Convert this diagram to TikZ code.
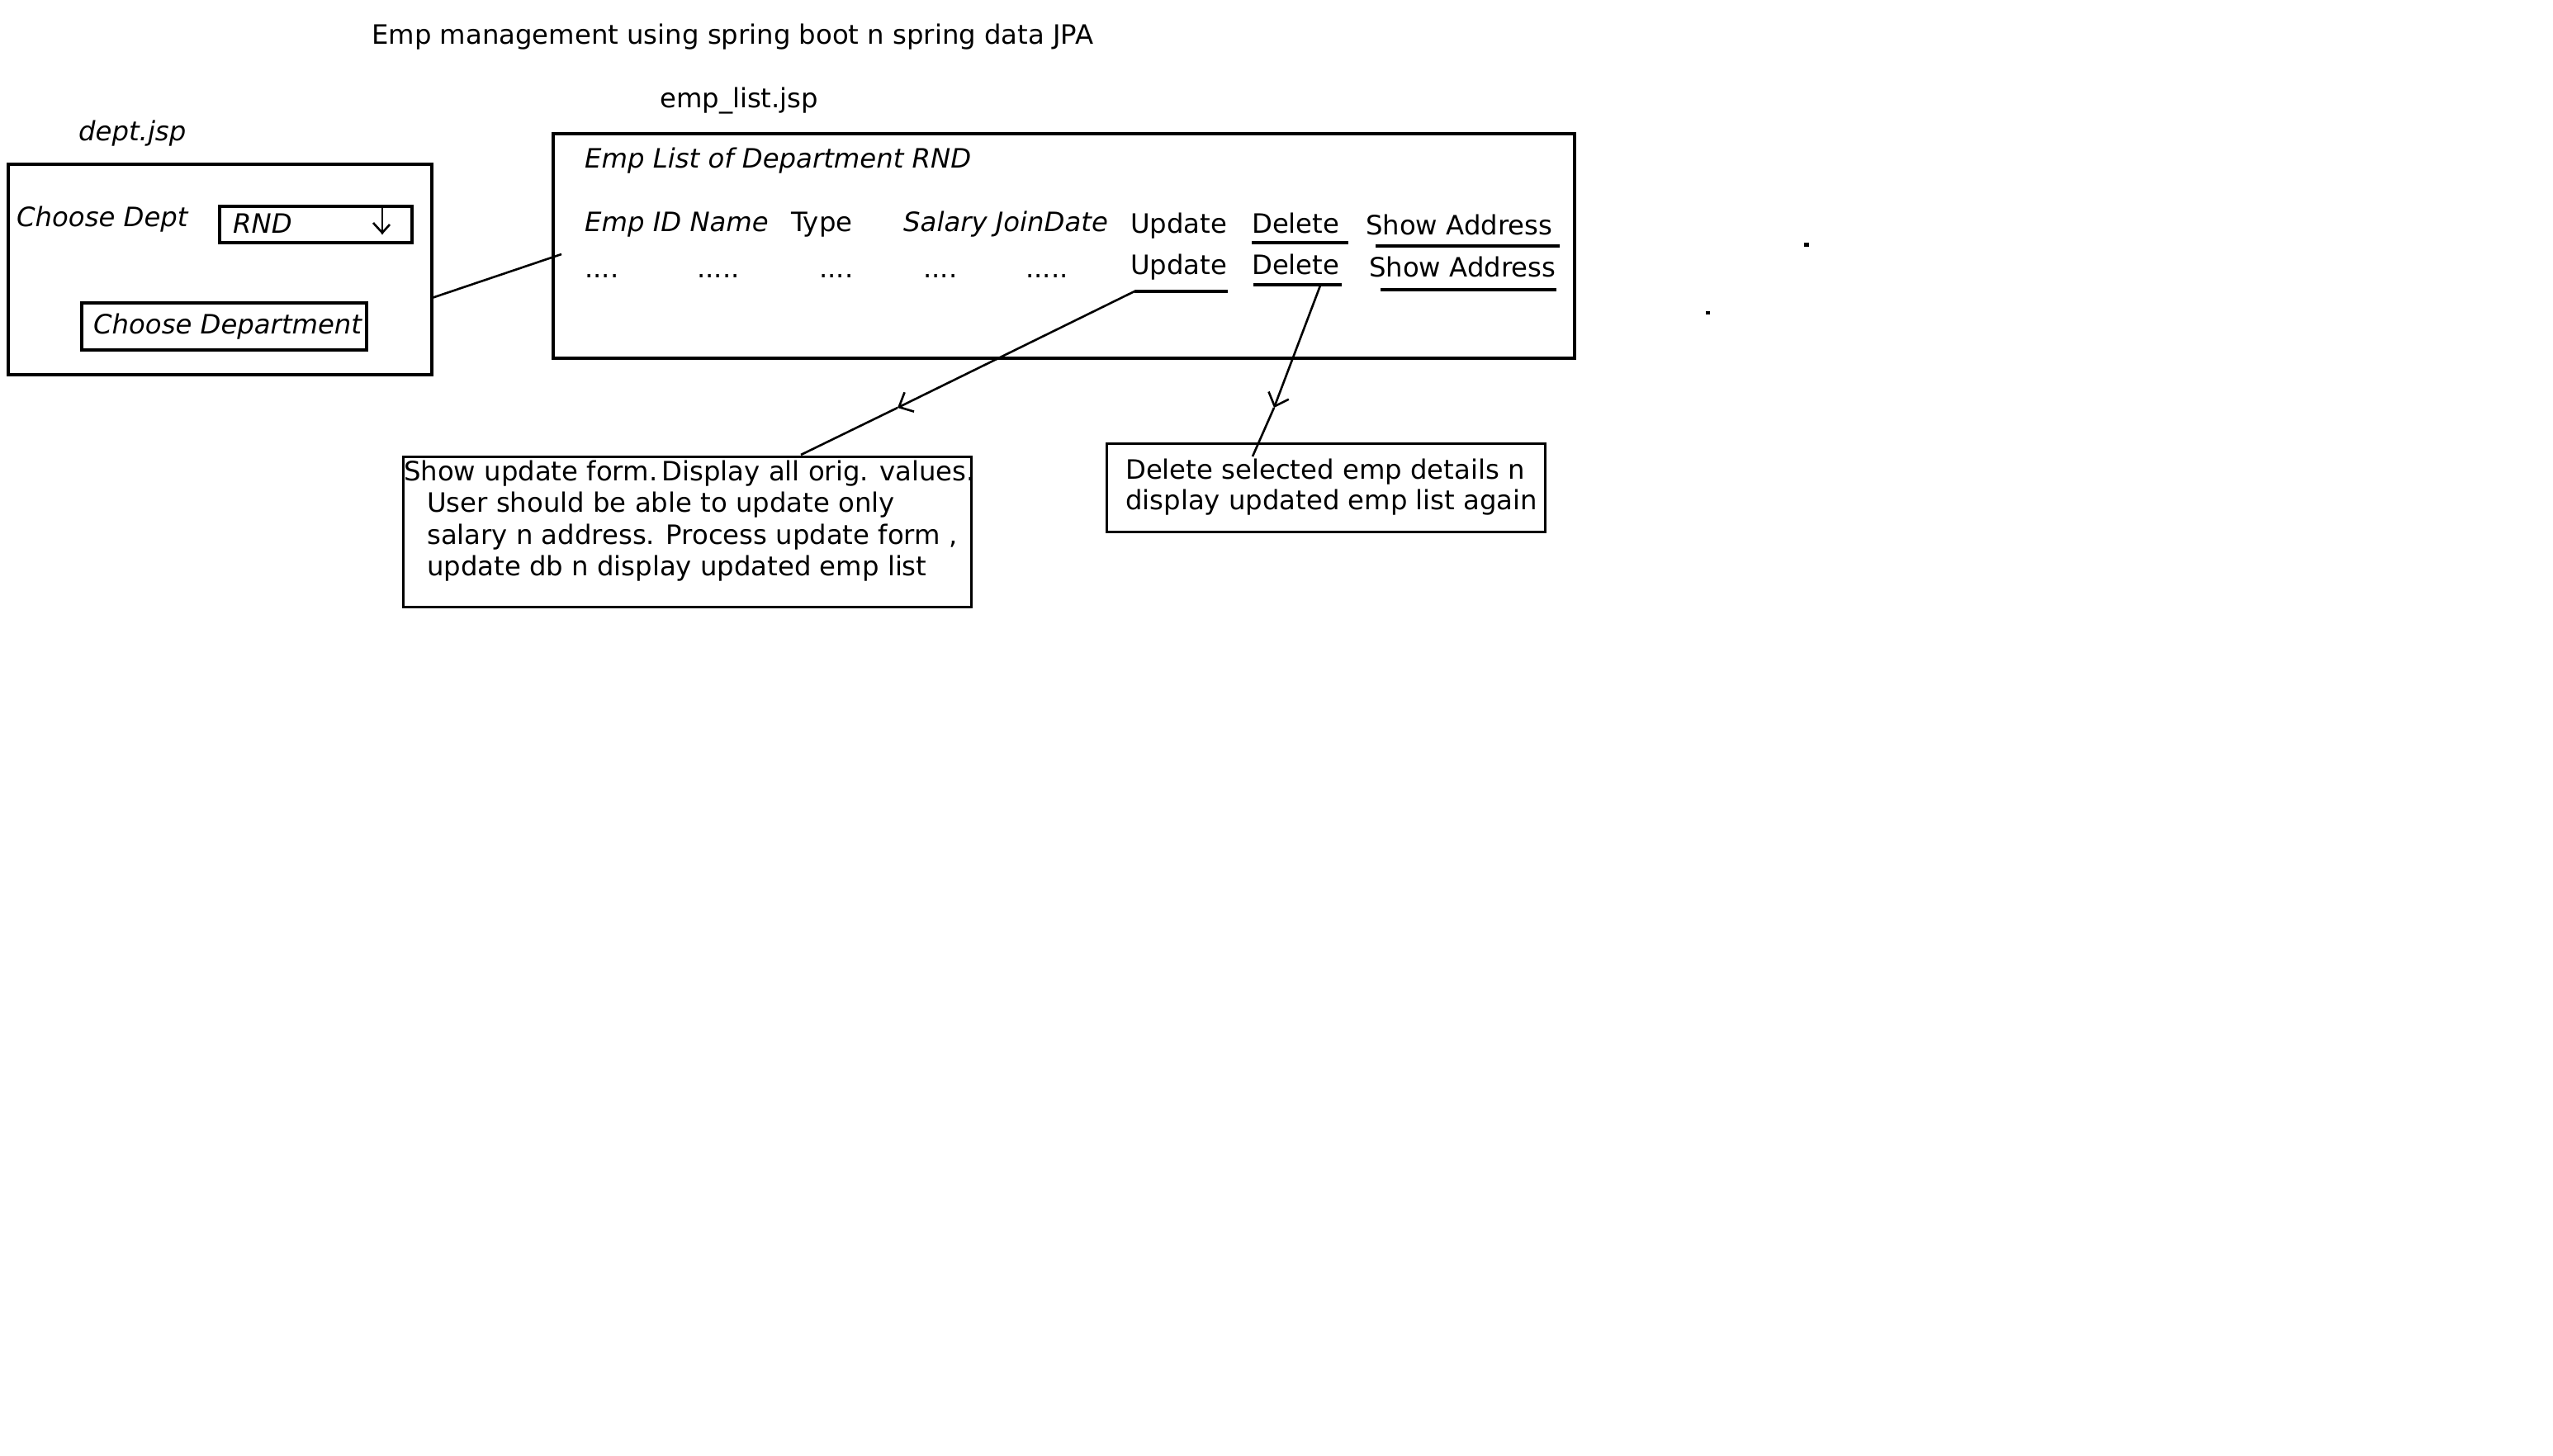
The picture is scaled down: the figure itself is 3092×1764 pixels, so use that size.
\documentclass[tikz,border=0pt]{standalone}
\usepackage{fontspec}
\setmainfont{DejaVu Sans}
\usetikzlibrary{arrows.meta}
\tikzset{
  txt/.style={inner sep=0pt, anchor=base west, font=\fontsize{32.3}{38}\selectfont},
  itxt/.style={txt, font=\fontsize{32.3}{38}\selectfont\itshape},
  box/.style={draw, line width=3.2pt, inner sep=0pt},
  conn/.style={line width=2.6pt},
  uline/.style={line width=3.2pt},
  tip/.style={conn, -{Straight Barb[length=14pt,width=26pt,line width=2.6pt]}}
}
\begin{document}
\begin{tikzpicture}[x=1pt,y=-1pt]
\useasboundingbox (0,0) rectangle (3092,1764);
% title
\node[txt] (title) at (450,53) {Emp management using spring boot n spring data JPA};
\node[txt] (emplbl) at (799,130) {emp\_list.jsp};
\node[itxt] (deptlbl) at (95,170) {dept.jsp};
% dept box
\draw[box] (10,199) rectangle (523,454);
\coordinate (deptR) at (523,361);
\node[itxt] (cd) at (20,274) {Choose Dept};
\draw[box] (266,250) rectangle (499,294);
\node[itxt] (rnd) at (282,282) {RND};
\draw[conn] (463,248) -- (463,284);
\draw[conn] (452,270) -- (463,282) -- (472,272);
\draw[box] (99,367) rectangle (444,424);
\node[itxt] (cdbtn) at (113,404) {Choose Department};
% emp box
\draw[box] (670,162) rectangle (1907,434);
\coordinate (empL) at (680,308);
\draw[conn] (deptR) -- (empL);
\node[itxt] (elh) at (708,203) {Emp List of Department RND};
\node[itxt] (h1) at (708,280) {Emp ID Name};
\node[txt] (h2) at (958,280) {Type};
\node[itxt] (h3) at (1094,280) {Salary JoinDate};
\node[txt] (u1) at (1369,282) {Update};
\node[txt] (d1) at (1516,282) {Delete};
\node[txt] (s1) at (1654,284) {Show Address};
\draw[uline] (1516,294) -- (1633,294);
\draw[uline] (1666,298) -- (1889,298);
\node[txt] (r1) at (708,336) {....};
\node[txt] (r2) at (844,336) {.....};
\node[txt] (r3) at (992,336) {....};
\node[txt] (r4) at (1118,336) {....};
\node[txt] (r5) at (1242,336) {.....};
\node[txt] (u2) at (1369,332) {Update};
\node[txt] (d2) at (1516,332) {Delete};
\node[txt] (s2) at (1658,335) {Show Address};
\coordinate (uA) at (1374,353);
\draw[uline] (uA) -- (1487,353);
\draw[uline] (1518,345) -- (1625,345);
\coordinate (dA) at (1599,346);
\draw[uline] (1672,351) -- (1885,351);
% update box
\node[box, minimum width=688pt, minimum height=182pt, anchor=north west] (ubox) at (487,552) {};
\coordinate (uB) at (970,551);
\coordinate (uM) at (1087,494);
\draw[tip] (uA) -- (uM);
\draw[conn] (uM) -- (uB);
\node[txt] (ut1) at (489,582) {Show update form.\,Display all orig. values.};
\node[txt] (ut2) at (517,620) {User should be able to update only};
\node[txt] (ut3) at (517,659) {salary n address. Process update form ,};
\node[txt] (ut4) at (517,697) {update db n display updated emp list};
% delete box
\node[box, minimum width=531pt, minimum height=107pt, anchor=north west] (dbox) at (1339,536) {};
\coordinate (dB) at (1517,553);
\coordinate (dM) at (1543,494);
\draw[tip] (dA) -- (dM);
\draw[conn] (dM) -- (dB);
\node[txt] (dt1) at (1363,580) {Delete selected emp details n};
\node[txt] (dt2) at (1363,617) {display updated emp list again};
% stray marks
\fill (2185,294) rectangle (2191,299);
\fill (2066,377) rectangle (2071,381);
\end{tikzpicture}
\end{document}
